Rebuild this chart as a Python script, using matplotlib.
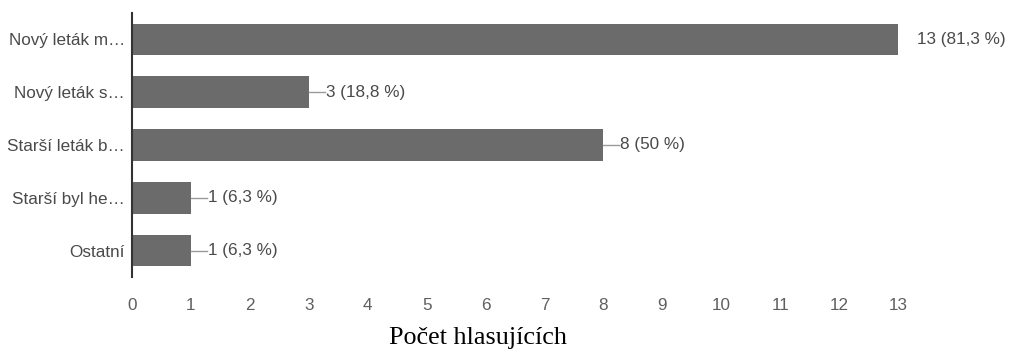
import numpy as np
import matplotlib.pyplot as plt

# odpovedi a pocty hlasu
odpovedi = ['Nový leták m…', 'Nový leták s…', 'Starší leták b…', 'Starší byl he…', 'Ostatní']
hlasy = [13, 3, 8, 1, 1]
procenta = ['81,3 %', '18,8 %', '50 %', '6,3 %', '6,3 %']
xticky = list(range(0, 14))

plt.rcParams['font.family'] = ['Liberation Sans', 'DejaVu Sans']

fig = plt.figure(figsize=(10.09, 3.53), dpi=100)
ax = fig.add_axes([132/1009, 1-277/353, (898-132)/1009, (277-13)/353])

y = np.arange(len(odpovedi))
ax.barh(y, hlasy, height=0.6, color='#6b6b6b', edgecolor='none')

# popisky hodnot s kratkou carou od konce sloupce (cara se orizne na okraji grafu)
delka = 16 * 13 / 766  # 16 px v jednotkach osy x
for i, (h, p) in enumerate(zip(hlasy, procenta)):
    ax.plot([h, h + delka], [i, i], color='#9a9a9a', lw=1, clip_on=True)
    ax.annotate('%d (%s)' % (h, p), xy=(h, i), xytext=(17 if h < 13 else 19, 0),
                textcoords='offset pixels', va='center', ha='left',
                fontsize=12.3, color='#4a4a4a', annotation_clip=False)

ax.set_xlim(0, 13)
ax.set_ylim(len(odpovedi) - 0.5, -0.5)
ax.set_yticks(y)
ax.set_yticklabels(odpovedi)
ax.set_xticks(xticky)
ax.tick_params(axis='y', length=0, pad=5, labelsize=12.3, labelcolor='#4a4a4a')
ax.tick_params(axis='x', length=0, pad=15, labelsize=12.3, labelcolor='#5f5f5f')

for s in ['top', 'right', 'bottom']:
    ax.spines[s].set_visible(False)
ax.spines['left'].set_color('#333333')
ax.spines['left'].set_linewidth(1.5)

fig.text(478/1009, 1-338/353, 'Počet hlasujících', ha='center', va='center',
         fontsize=18.8, family=['Liberation Serif', 'DejaVu Serif'], color='black')

plt.savefig('out.png', dpi=100)
